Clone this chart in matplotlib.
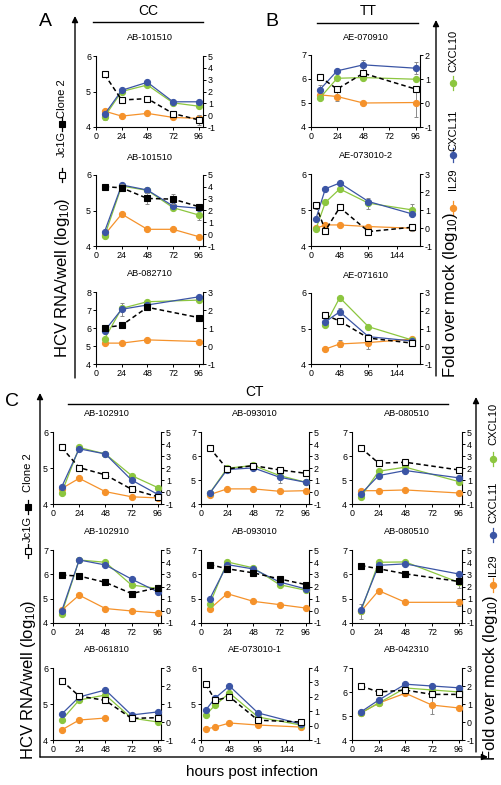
import numpy as np
import matplotlib
matplotlib.use("Agg")
import matplotlib.pyplot as plt

plt.rcParams['font.family'] = ['Liberation Sans', 'DejaVu Sans']
plt.rcParams['axes.unicode_minus'] = False
plt.rcParams['mathtext.fontset'] = 'custom'
plt.rcParams['mathtext.rm'] = 'Liberation Sans'
plt.rcParams['mathtext.it'] = 'Liberation Sans'

nan = np.nan
# ---------------- data ----------------
# Panel A (CC)
A1_x = [8, 24, 48, 72, 96]
A1_jc1g = [5.48, 4.76, 4.80, 4.38, 4.20]
A1_cxcl10 = [-0.13, 2.0, 2.55, 1.04, 0.76]
A1_cxcl11 = [0.07, 2.1, 2.78, 1.13, 1.13]
A1_il29 = [0.34, -0.08, 0.15, -0.19, -0.27]

A2_x = [8, 24, 48, 72, 96]
A2_clone2 = [5.67, 5.64, 5.34, 5.32, 5.11]
A2_cxcl10 = [-0.15, 4.07, 3.70, 2.24, 1.62]
A2_cxcl11 = [0.21, 4.16, 3.73, 2.38, 2.19]
A2_il29 = [-0.05, 1.70, 0.41, 0.41, -0.21]

A3_x = [8, 24, 48, 96]
A3_clone2 = [6.02, 6.15, 7.15, 6.58]
A3_cxcl10 = [0.40, 2.09, 2.46, 2.55]
A3_cxcl11 = [0.84, 2.04, 2.28, 2.73]
A3_il29 = [0.16, 0.16, 0.34, 0.25]

# Panel B (TT)
B1_x = [8, 24, 48, 96]
B1_jc1g = [6.10, 5.58, 6.24, 5.58]
B1_cxcl10 = [0.20, 1.03, 1.06, 0.99]
B1_cxcl11 = [0.55, 1.34, 1.59, 1.45]
B1_il29 = [0.34, 0.27, 0.00, 0.02]

B2_x = [8, 24, 48, 96, 168]
B2_jc1g = [5.13, 4.43, 5.07, 4.40, 4.52]
B2_cxcl10 = [-0.07, 1.42, 2.17, 1.38, 1.01]
B2_cxcl11 = [0.49, 2.18, 2.50, 1.47, 0.79]
B2_il29 = [-0.02, 0.17, 0.17, 0.08, -0.01]

B3_x = [24, 48, 96, 168]
B3_jc1g = [5.38, 5.21, 4.73, 4.59]
B3_cxcl10 = [1.20, 2.74, 1.10, 0.36]
B3_cxcl11 = [1.38, 1.94, 0.54, 0.30]
B3_il29 = [-0.16, 0.13, 0.21, 0.40]

# Panel C (CT)
C11_x = [8, 24, 48, 72, 96]
C11_jc1g = [5.57, 5.01, 4.81, 4.41, 4.20]
C11_cxcl10 = [-0.06, 3.71, 3.17, 1.37, 0.37]
C11_cxcl11 = [0.43, 3.60, 3.17, 1.00, -0.20]
C11_il29 = [0.29, 1.14, 0.03, -0.40, -0.49]

C12_x = [8, 24, 48, 72, 96]
C12_jc1g = [6.34, 5.46, 5.60, 5.42, 5.28]
C12_cxcl10 = [-0.10, 1.98, 2.21, 1.37, 0.81]
C12_cxcl11 = [-0.11, 1.87, 2.01, 1.23, 0.81]
C12_il29 = [-0.22, 0.26, 0.26, 0.06, 0.11]

C13_x = [8, 24, 48, 96]
C13_jc1g = [6.34, 5.70, 5.74, 5.42]
C13_cxcl10 = [-0.39, 1.73, 2.07, 0.87]
C13_cxcl11 = [-0.16, 1.37, 1.79, 1.18]
C13_il29 = [0.11, 0.11, 0.17, -0.08]

C21_x = [8, 24, 48, 72, 96]
C21_clone2 = [5.97, 5.93, 5.67, 5.21, 5.45]
C21_cxcl10 = [-0.22, 4.18, 3.99, 2.12, 1.84]
C21_cxcl11 = [-0.01, 4.18, 3.77, 2.61, 1.56]
C21_il29 = [0.05, 1.29, 0.19, -0.01, -0.17]

C22_x = [8, 24, 48, 72, 96]
C22_clone2 = [6.40, 6.23, 6.06, 5.81, 5.58]
C22_cxcl10 = [0.56, 4.02, 3.53, 2.15, 1.69]
C22_cxcl11 = [0.98, 3.80, 3.44, 2.37, 1.80]
C22_il29 = [0.15, 1.41, 0.78, 0.51, 0.23]

C23_x = [8, 24, 48, 96]
C23_clone2 = [6.36, 6.23, 6.02, 5.71]
C23_cxcl10 = [-0.05, 3.99, 4.02, 2.34]
C23_cxcl11 = [0.10, 3.74, 3.86, 3.03]
C23_il29 = [-0.05, 1.66, 0.70, 0.70]

C31_x = [8, 24, 48, 72, 96]
C31_jc1g = [5.65, 5.22, 5.10, 4.60, 4.62]
C31_cxcl10 = [0.11, 1.22, 1.50, 0.22, 0.00]
C31_cxcl11 = [0.44, 1.39, 1.78, 0.39, 0.56]
C31_il29 = [-0.44, 0.11, 0.22, nan, nan]

C32_x = [8, 24, 48, 96, 168]
C32_jc1g = [5.55, 5.10, 5.20, 4.55, 4.50]
C32_cxcl10 = [0.74, 1.43, 2.26, 0.60, 0.04]
C32_cxcl11 = [1.08, 1.92, 2.75, 0.88, 0.11]
C32_il29 = [-0.24, -0.10, 0.18, 0.04, -0.10]

C33_x = [8, 24, 48, 72, 96]
C33_jc1g = [6.25, 6.00, 6.08, 5.90, 5.90]
C33_cxcl10 = [0.50, 1.05, 1.89, 1.78, 1.67]
C33_cxcl11 = [0.56, 1.22, 2.10, 2.00, 1.90]
C33_il29 = [0.50, 1.05, 1.60, 0.94, 0.78]

# a few visible error bars (same order as x)
A1_cxcl10_err = [0.3, 0, 0, 0, 0]
A1_jc1g_err = [0, 0, 0, 0, 0.15]
A2_clone2_err = [0, 0.1, 0.15, 0.15, 0.05]
A2_cxcl10_err = [0, 0, 0, 0, 0.4]
A3_cxcl11_err = [0, 0.35, 0, 0]
B1_il29_err = [0.1, 0.2, 0, 0.6]
B1_cxcl11_err = [0.2, 0, 0.2, 0.25]
B2_cxcl10_err = [0, 0, 0, 0.3, 0.3]
B2_jc1g_err = [0.1, 0, 0, 0, 0.1]
B3_cxcl11_err = [0, 0.2, 0, 0]
B3_il29_err = [0, 0.2, 0.35, 0]
C12_cxcl11_err = [0, 0, 0, 0.5, 0]
C22_clone2_err = [0, 0.15, 0, 0, 0]
C23_il29_err = [0.6, 0, 0, 0.3]
C23_cxcl10_err = [0, 0, 0, 0.5]
C33_il29_err = [0, 0, 0, 0.5, 0]

# ---------------- style ----------------
GREEN = '#8cc63f'
BLUE = '#3b55a5'
ORANGE = '#f5922b'
ERRC = '#8a8a8a'

W, H = 502, 785
fig = plt.figure(figsize=(W / 100, H / 100), dpi=100)
ov = fig.add_axes([0, 0, 1, 1])
ov.set_xlim(0, W)
ov.set_ylim(H, 0)
ov.axis('off')

TICK = 6.4


def panel(box, title, x, virus, filled, c10, c11, il29, ylim, y2lim, xticks, xlim,
          virus_err=None, c10_err=None, c11_err=None, il29_err=None):
    l, t, r, b = box
    ax = fig.add_axes([l / W, 1 - b / H, (r - l) / W, (b - t) / H])
    ax2 = ax.twinx()
    ax.set_zorder(ax2.get_zorder() + 1)
    ax.patch.set_visible(False)

    def plot(a, y, col, mk, mfc, ls, lw, ms, err):
        if err is not None:
            a.errorbar(x, y, yerr=err, fmt='none', ecolor=ERRC, elinewidth=0.7,
                       capsize=1.5, capthick=0.7, zorder=1)
        a.plot(x, y, color=col, ls=ls, lw=lw, marker=mk, ms=ms, mfc=mfc,
               mec=col, mew=0.8, zorder=3, clip_on=False)

    plot(ax2, il29, ORANGE, 'o', ORANGE, '-', 0.9, 4.4, il29_err)
    plot(ax2, c10, GREEN, 'o', GREEN, '-', 0.9, 4.4, c10_err)
    plot(ax2, c11, BLUE, 'o', BLUE, '-', 0.9, 4.4, c11_err)
    plot(ax, virus, 'black', 's', 'black' if filled else 'white',
         (0, (3, 2)), 1.1, 5.0, virus_err)

    ax.set_xlim(*xlim)
    ax.set_ylim(*ylim)
    ax2.set_ylim(*y2lim)
    ax.set_xticks(xticks)
    ax.set_yticks(range(ylim[0], ylim[1] + 1))
    ax2.set_yticks(range(y2lim[0], y2lim[1] + 1))
    for a in (ax, ax2):
        for s in a.spines.values():
            s.set_linewidth(0.8)
        a.spines['top'].set_visible(False)
        a.tick_params(direction='out', length=2.5, width=0.7, labelsize=TICK, pad=1)
    ax.spines['right'].set_visible(False)
    ax2.spines['left'].set_visible(False)
    ax2.spines['bottom'].set_visible(False)
    ov.text((l + r) / 2, t - 18, title, ha='center', va='center', fontsize=6.6)
    return ax


X96 = [0, 24, 48, 72, 96]
X144 = [0, 48, 96, 144]
L96 = (0, 100)
L144 = (0, 182)

# Panel A
panel((96, 56, 203, 127), 'AB-101510', A1_x, A1_jc1g, False, A1_cxcl10, A1_cxcl11, A1_il29,
      (4, 6), (-1, 5), X96, L96, virus_err=A1_jc1g_err, c10_err=A1_cxcl10_err)
panel((96, 175, 203, 246), 'AB-101510', A2_x, A2_clone2, True, A2_cxcl10, A2_cxcl11, A2_il29,
      (4, 6), (-1, 5), X96, L96, virus_err=A2_clone2_err, c10_err=A2_cxcl10_err)
panel((96, 292, 203, 364), 'AB-082710', A3_x, A3_clone2, True, A3_cxcl10, A3_cxcl11, A3_il29,
      (4, 8), (-1, 3), X96, L96, c11_err=A3_cxcl11_err)

# Panel B
panel((311, 55, 420, 127), 'AE-070910', B1_x, B1_jc1g, False, B1_cxcl10, B1_cxcl11, B1_il29,
      (4, 7), (-1, 2), X96, L96, il29_err=B1_il29_err, c11_err=B1_cxcl11_err)
panel((311, 174, 420, 246), 'AE-073010-2', B2_x, B2_jc1g, False, B2_cxcl10, B2_cxcl11, B2_il29,
      (4, 6), (-1, 3), X144, L144, virus_err=B2_jc1g_err, c10_err=B2_cxcl10_err)
panel((311, 293, 420, 364), 'AE-071610', B3_x, B3_jc1g, False, B3_cxcl10, B3_cxcl11, B3_il29,
      (4, 6), (-1, 3), X144, L144, c11_err=B3_cxcl11_err, il29_err=B3_il29_err)

# Panel C
cols = [(53, 161), (201, 309), (352, 462)]
rows = [(432, 504), (550, 623), (668, 740)]
L99 = (0, 99)
panel((cols[0][0], rows[0][0], cols[0][1], rows[0][1]), 'AB-102910', C11_x, C11_jc1g, False,
      C11_cxcl10, C11_cxcl11, C11_il29, (4, 6), (-1, 5), X96, L99)
panel((cols[1][0], rows[0][0], cols[1][1], rows[0][1]), 'AB-093010', C12_x, C12_jc1g, False,
      C12_cxcl10, C12_cxcl11, C12_il29, (4, 7), (-1, 5), X96, L99, c11_err=C12_cxcl11_err)
panel((cols[2][0], rows[0][0], cols[2][1], rows[0][1]), 'AB-080510', C13_x, C13_jc1g, False,
      C13_cxcl10, C13_cxcl11, C13_il29, (4, 7), (-1, 5), X96, L99)
panel((cols[0][0], rows[1][0], cols[0][1], rows[1][1]), 'AB-102910', C21_x, C21_clone2, True,
      C21_cxcl10, C21_cxcl11, C21_il29, (4, 7), (-1, 5), X96, L99)
panel((cols[1][0], rows[1][0], cols[1][1], rows[1][1]), 'AB-093010', C22_x, C22_clone2, True,
      C22_cxcl10, C22_cxcl11, C22_il29, (4, 7), (-1, 5), X96, L99, virus_err=C22_clone2_err)
panel((cols[2][0], rows[1][0], cols[2][1], rows[1][1]), 'AB-080510', C23_x, C23_clone2, True,
      C23_cxcl10, C23_cxcl11, C23_il29, (4, 7), (-1, 5), X96, L99,
      il29_err=C23_il29_err, c10_err=C23_cxcl10_err)
panel((cols[0][0], rows[2][0], cols[0][1], rows[2][1]), 'AB-061810', C31_x, C31_jc1g, False,
      C31_cxcl10, C31_cxcl11, C31_il29, (4, 6), (-1, 3), X96, L99)
panel((cols[1][0], rows[2][0], cols[1][1], rows[2][1]), 'AE-073010-1', C32_x, C32_jc1g, False,
      C32_cxcl10, C32_cxcl11, C32_il29, (4, 6), (-1, 4), X144, L144)
panel((cols[2][0], rows[2][0], cols[2][1], rows[2][1]), 'AB-042310', C33_x, C33_jc1g, False,
      C33_cxcl10, C33_cxcl11, C33_il29, (4, 7), (-1, 3), X96, L99, il29_err=C33_il29_err)

# ---------------- annotations ----------------
def arrow(x0, y0, x1, y1):
    ov.annotate('', xy=(x1, y1), xytext=(x0, y0),
                arrowprops=dict(arrowstyle='-|>', lw=1.0, color='black',
                                mutation_scale=9, shrinkA=0, shrinkB=0))

ov.text(45, 22, 'A', fontsize=14, ha='center', va='center')
ov.text(148, 11, 'CC', fontsize=10, ha='center', va='center')
ov.plot([93, 203], [22, 22], color='black', lw=1)
ov.text(272, 22, 'B', fontsize=14, ha='center', va='center')
ov.text(368, 11, 'TT', fontsize=10, ha='center', va='center')
ov.plot([317, 418], [23, 23], color='black', lw=1)
ov.text(12, 402, 'C', fontsize=14, ha='center', va='center')
ov.text(255, 392, 'CT', fontsize=10, ha='center', va='center')
ov.plot([68, 448], [404, 404], color='black', lw=1)

arrow(75, 378, 75, 16)
arrow(436, 376, 436, 20)
arrow(40, 757, 40, 393)
arrow(40, 757, 488, 757)
arrow(476, 752, 476, 397)

ov.text(252, 772, 'hours post infection', fontsize=11, ha='center', va='center')


def vmarker(x, y, mk, face, col, ms, ls='-'):
    ov.plot([x, x], [y - 7, y + 7], color=col, lw=0.9, ls=ls)
    ov.plot([x], [y], marker=mk, ms=ms, mfc=face, mec=col, mew=0.8, ls='none')


def left_legend(x, y_clone, y_fill, y_jc, y_open, y_hcv):
    ov.text(x, y_clone, 'Clone 2', rotation=90, fontsize=8, ha='center', va='center')
    vmarker(x, y_fill, 's', 'black', 'black', 4.5)
    ov.text(x, y_jc, 'Jc1G', rotation=90, fontsize=8, ha='center', va='center')
    vmarker(x, y_open, 's', 'white', 'black', 4.5)
    ov.text(x + 1, y_hcv, 'HCV RNA/well (log$_{10}$)', rotation=90, fontsize=12,
            ha='center', va='center')


def right_legend(x, y10, yg, y11, yb, yil, yo, yfold):
    ov.text(x, y10, 'CXCL10', rotation=90, fontsize=8, ha='center', va='center')
    vmarker(x, yg, 'o', GREEN, GREEN, 4.5)
    ov.text(x, y11, 'CXCL11', rotation=90, fontsize=8, ha='center', va='center')
    vmarker(x, yb, 'o', BLUE, BLUE, 4.5)
    ov.text(x, yil, 'IL29', rotation=90, fontsize=8, ha='center', va='center')
    vmarker(x, yo, 'o', ORANGE, ORANGE, 4.5)
    ov.text(x - 2, yfold, 'Fold over mock (log$_{10}$)', rotation=90, fontsize=12,
            ha='center', va='center')


left_legend(62, 99, 124, 144, 175, 278)
right_legend(453, 51, 83, 130, 155, 179, 208, 295)
left_legend(28, 473, 507, 529, 551, 680)
right_legend(493, 424, 459, 502, 535, 565, 585, 678)

fig.savefig('out.png', dpi=100)
